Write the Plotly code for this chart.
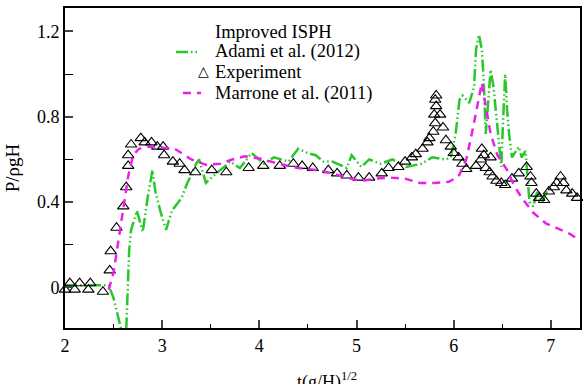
import plotly.graph_objects as go

# Experiment (triangles)
exp_x = [2.00, 2.05, 2.10, 2.15, 2.24, 2.26, 2.39, 2.46, 2.47, 2.53, 2.60, 2.63, 2.65, 2.65, 2.68,
         2.78, 2.82, 2.89, 2.95, 3.01, 3.02, 3.11, 3.18, 3.23, 3.34, 3.51, 3.66, 3.89, 4.04, 4.21,
         4.35, 4.44, 4.55, 4.71, 4.80, 4.90, 5.02, 5.13, 5.26, 5.33, 5.43, 5.50, 5.57, 5.61, 5.68,
         5.73, 5.75, 5.79, 5.81, 5.80, 5.82, 5.81, 5.82, 5.86, 5.89, 5.92, 5.97, 6.00, 6.05, 6.09,
         6.13, 6.23, 6.28, 6.29, 6.31, 6.38, 6.33, 6.37, 6.40, 6.44, 6.49, 6.53, 6.60, 6.67, 6.75,
         6.79, 6.80, 6.85, 6.88, 6.93, 6.98, 7.03, 7.06, 7.10, 7.13, 7.16, 7.22, 7.27]
exp_y = [-0.01, 0.02, -0.01, 0.02, -0.01, 0.02, -0.02, 0.08, 0.17, 0.28, 0.38, 0.47, 0.57, 0.62, 0.67,
         0.70, 0.68, 0.68, 0.66, 0.66, 0.62, 0.59, 0.58, 0.55, 0.54, 0.55, 0.54, 0.56, 0.57, 0.57,
         0.58, 0.57, 0.56, 0.55, 0.535, 0.525, 0.515, 0.515, 0.535, 0.56, 0.565, 0.59, 0.61, 0.625, 0.65,
         0.68, 0.70, 0.73, 0.77, 0.81, 0.85, 0.88, 0.90, 0.81, 0.75, 0.69, 0.66, 0.63, 0.61, 0.58,
         0.555, 0.57, 0.60, 0.65, 0.62, 0.61, 0.56, 0.54, 0.52, 0.50, 0.49, 0.48, 0.51, 0.535, 0.565,
         0.52, 0.49, 0.44, 0.42, 0.41, 0.45, 0.47, 0.49, 0.52, 0.49, 0.455, 0.44, 0.42]

# Marrone et al. (2011)
mar_x = [2.45, 2.50, 2.55, 2.60, 2.65, 2.70, 2.76, 2.85, 3.00, 3.13, 3.30, 3.45, 3.60, 3.72, 3.85,
         4.00, 4.20, 4.40, 4.60, 4.75, 4.90, 5.05, 5.20, 5.35, 5.50, 5.65, 5.80, 5.95, 6.05, 6.13,
         6.20, 6.25, 6.29, 6.33, 6.38, 6.45, 6.55, 6.62, 6.70, 6.82, 6.95, 7.08, 7.20, 7.30]
mar_y = [-0.01, 0.07, 0.22, 0.38, 0.52, 0.62, 0.65, 0.66, 0.655, 0.65, 0.60, 0.575, 0.58, 0.60, 0.615,
         0.605, 0.58, 0.56, 0.55, 0.535, 0.515, 0.50, 0.51, 0.515, 0.51, 0.49, 0.49, 0.495, 0.52, 0.60,
         0.75, 0.86, 0.96, 0.85, 0.72, 0.62, 0.55, 0.48, 0.42, 0.35, 0.30, 0.275, 0.25, 0.22]

# Adami et al. (2012)
ada_x = [2.00, 2.20, 2.45, 2.50, 2.58, 2.63, 2.66, 2.68, 2.74, 2.80, 2.85, 2.90, 2.93, 2.98, 3.04,
         3.10, 3.20, 3.25, 3.35, 3.38, 3.45, 3.52, 3.60, 3.70, 3.80, 3.92, 4.05, 4.15, 4.30, 4.40,
         4.50, 4.58, 4.66, 4.75, 4.90, 4.95, 5.05, 5.13, 5.25, 5.37, 5.51, 5.67, 5.78, 5.92, 5.97,
         6.02, 6.06, 6.09, 6.16, 6.21, 6.23, 6.26, 6.29, 6.31, 6.33, 6.38, 6.41, 6.44, 6.47, 6.49,
         6.50, 6.53, 6.55, 6.57, 6.60, 6.67, 6.70, 6.74, 6.78, 6.82, 6.86, 6.91, 6.97]
ada_y = [0.01, 0.01, 0.01, -0.05, -0.20, -0.20, 0.17, 0.27, 0.36, 0.26, 0.42, 0.55, 0.45, 0.36, 0.27,
         0.36, 0.42, 0.48, 0.58, 0.60, 0.49, 0.52, 0.55, 0.59, 0.56, 0.63, 0.58, 0.61, 0.59, 0.65,
         0.63, 0.62, 0.59, 0.59, 0.56, 0.62, 0.565, 0.60, 0.58, 0.60, 0.565, 0.58, 0.61, 0.60, 0.61,
         0.72, 0.88, 0.90, 0.865, 0.94, 1.115, 1.185, 1.115, 0.96, 0.72, 1.02, 0.94, 0.80, 0.69, 0.565,
         0.69, 1.00, 0.83, 0.72, 0.61, 0.66, 0.61, 0.64, 0.40, 0.38, 0.45, 0.40, 0.46]

x_ticks = [2, 3, 4, 5, 6, 7]
y_ticks = [0, 0.4, 0.8, 1.2]
y_tick_text = ["0", "0.4", "0.8", "1.2"]
legend_names = ["Improved ISPH", "Adami et al. (2012)", "Experiment", "Marrone et al. (2011)"]
x_title = "t(g/H)<sup>1/2</sup>"
y_title = "P/ρgH"

FONT = "Liberation Serif"
GREEN = "rgb(40,200,40)"
MAGENTA = "rgb(235,30,235)"
GREEN_DASH = "12px,3px,1.5px,3px,1.5px,3px"
MAG_DASH = "8px,6px"

# plot area in pixels (for legend / title placement)
W, H = 585, 384
L, R, T, B = 65, 5, 8, 56
PW, PH = W - L - R, H - T - B


def px_x(p):
    return (p - L) / PW


def px_y(p):
    return (H - B - p) / PH


fig = go.Figure()
fig.add_trace(go.Scatter(x=ada_x, y=ada_y, mode="lines", name=legend_names[1],
                         line=dict(color=GREEN, width=2.5, dash=GREEN_DASH)))
fig.add_trace(go.Scatter(x=exp_x, y=exp_y, mode="markers", name=legend_names[2],
                         cliponaxis=False,
                         marker=dict(symbol="triangle-up-open", size=10,
                                     color="black", line=dict(width=1.1, color="black"))))
fig.add_trace(go.Scatter(x=mar_x, y=mar_y, mode="lines", name=legend_names[3],
                         line=dict(color=MAGENTA, width=2.5, dash=MAG_DASH)))

# manual legend (compact rows like the reference)
row_y = [32, 52, 72, 93]
for name, ry in zip(legend_names, row_y):
    fig.add_annotation(x=px_x(213), y=px_y(ry), xref="paper", yref="paper",
                       text=name, showarrow=False, xanchor="left", yanchor="middle",
                       font=dict(family=FONT, size=18.5, color="black"))
fig.add_shape(type="line", xref="paper", yref="paper",
              x0=px_x(176), x1=px_x(200), y0=px_y(52), y1=px_y(52),
              line=dict(color=GREEN, width=2.5, dash=GREEN_DASH))
fig.add_shape(type="line", xref="paper", yref="paper",
              x0=px_x(183), x1=px_x(201), y0=px_y(93), y1=px_y(93),
              line=dict(color=MAGENTA, width=2.5, dash=MAG_DASH))
fig.add_annotation(x=px_x(203), y=px_y(71), xref="paper", yref="paper",
                   text="△", showarrow=False, xanchor="center", yanchor="middle",
                   font=dict(family="DejaVu Sans", size=14, color="black"))

# x-axis title, placed low like the reference (partly cut by the page edge)
fig.add_annotation(x=px_x(327), y=px_y(381), xref="paper", yref="paper",
                   text=x_title, showarrow=False, xanchor="center", yanchor="middle",
                   font=dict(family=FONT, size=18, color="black"))

fig.update_layout(
    width=W, height=H,
    margin=dict(l=L, r=R, t=T, b=B),
    paper_bgcolor="white", plot_bgcolor="white",
    font=dict(family=FONT, size=18, color="black"),
    showlegend=False,
    xaxis=dict(range=[2, 7.3], tickvals=x_ticks, ticks="inside", ticklen=8, tickwidth=1.5,
               showline=True, linewidth=2, linecolor="black", mirror=True,
               showgrid=False, zeroline=False, automargin=False,
               minor=dict(dtick=0.5, tick0=2, ticks="inside", ticklen=4, tickwidth=1.2,
                          tickcolor="black", showgrid=False)),
    yaxis=dict(range=[-0.19, 1.31], tickvals=y_ticks, ticktext=y_tick_text,
               ticks="inside", ticklen=8, tickwidth=1.5,
               showline=True, linewidth=2, linecolor="black", mirror=True,
               showgrid=False, zeroline=False, automargin=False,
               minor=dict(dtick=0.2, tick0=0, ticks="inside", ticklen=8, tickwidth=1.2,
                          tickcolor="black", showgrid=False),
               title=dict(text=y_title, standoff=12, font=dict(family=FONT, size=19))),
)

fig.write_html("out.html")
